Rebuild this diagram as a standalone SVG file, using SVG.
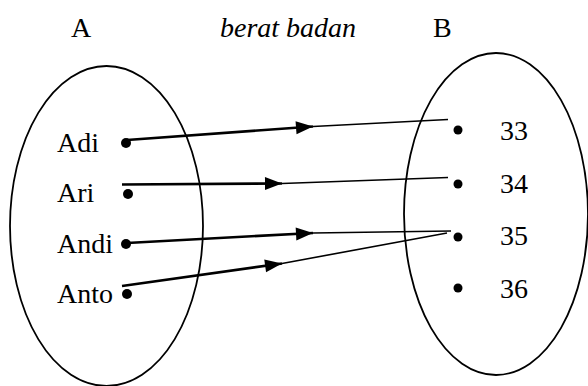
<svg xmlns="http://www.w3.org/2000/svg" width="588" height="386" viewBox="0 0 588 386">
<style>
text{font-family:'Liberation Serif','Times New Roman',serif;font-size:28px;fill:#000}
.i{font-style:italic}
.set{fill:none;stroke:#000;stroke-width:1.8}
.dot{fill:#000}
.thick{fill:none;stroke:#000;stroke-width:2.6}
.thin{fill:none;stroke:#000;stroke-width:1.6}
</style>
<defs>
<marker id="arr" markerUnits="userSpaceOnUse" markerWidth="20" markerHeight="16" viewBox="-18 -8 20 16" refX="0" refY="0" orient="auto">
<polygon points="0,0 -17,-6.5 -17,6.5" fill="#000"/>
</marker>
</defs>
<rect width="588" height="386" fill="#fff"/>
<g id="titles">
<text x="71" y="37">A</text>
<text class="i" x="220" y="37">berat badan</text>
<text x="433" y="37">B</text>
</g>
<g id="setA">
<ellipse class="set" cx="106.5" cy="226" rx="96.5" ry="160"/>
</g>
<g id="setB">
<ellipse class="set" cx="496" cy="214" rx="92" ry="161"/>
</g>
<g id="node-adi"><text x="57" y="152">Adi</text><circle class="dot" cx="126" cy="143" r="5"/></g>
<g id="node-ari"><text x="57" y="202">Ari</text><circle class="dot" cx="128" cy="194" r="5"/></g>
<g id="node-andi"><text x="57" y="253">Andi</text><circle class="dot" cx="126" cy="244" r="5"/></g>
<g id="node-anto"><text x="57" y="303">Anto</text><circle class="dot" cx="127" cy="294" r="5"/></g>
<g id="node-33"><circle class="dot" cx="458" cy="130" r="4.5"/><text x="500" y="140">33</text></g>
<g id="node-34"><circle class="dot" cx="458" cy="184" r="4.5"/><text x="500" y="193">34</text></g>
<g id="node-35"><circle class="dot" cx="458" cy="237" r="4.5"/><text x="500" y="245">35</text></g>
<g id="node-36"><circle class="dot" cx="458" cy="288" r="4.5"/><text x="500" y="298">36</text></g>
<g id="connectors">
<path class="thick" d="M127,140 L313,126.5" marker-end="url(#arr)"/>
<path class="thin" d="M313,126.5 L448,119.5"/>
<path class="thick" d="M122,184.5 L282,183.5" marker-end="url(#arr)"/>
<path class="thin" d="M282,183.5 L448,177.5"/>
<path class="thick" d="M127,243 L313,233" marker-end="url(#arr)"/>
<path class="thin" d="M313,233 L451,231"/>
<path class="thick" d="M122,286 L282,263.5" marker-end="url(#arr)"/>
<path class="thin" d="M282,263.5 L447,233"/>
</g>
</svg>
